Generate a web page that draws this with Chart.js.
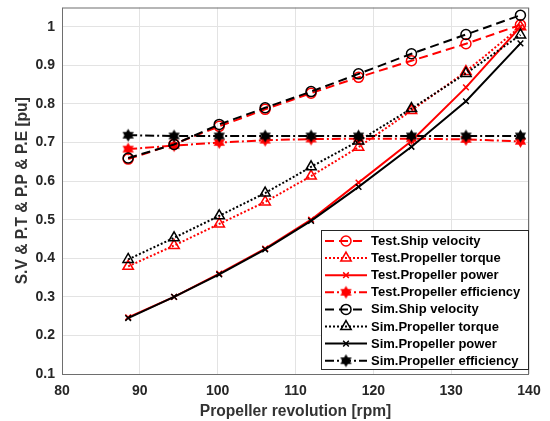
<!DOCTYPE html>
<html lang="en">
<head>
<meta charset="UTF-8">
<title>Propeller revolution chart</title>
<script src="https://cdn.jsdelivr.net/npm/chart.js@4.4.0/dist/chart.umd.min.js"></script>
<style>
    html, body { margin: 0; padding: 0; background: #fff; }
</style>
</head>
<body>
<canvas id="chartCanvas" width="550" height="421"></canvas>
<script>
    // propeller revolution [rpm]
    var rpm = [88.5, 94.4, 100.2, 106.1, 112.0, 118.1, 124.9, 131.9, 138.9];

    var testVelocity   = [0.657, 0.696, 0.742, 0.786, 0.828, 0.869, 0.912, 0.956, 1.005];
    var testTorque     = [0.379, 0.433, 0.489, 0.546, 0.613, 0.688, 0.783, 0.884, 1.000];
    var testPower      = [0.247, 0.300, 0.360, 0.425, 0.500, 0.596, 0.704, 0.843, 1.000];
    var testEfficiency = [0.683, 0.692, 0.700, 0.706, 0.709, 0.710, 0.710, 0.708, 0.703];

    var simVelocity   = [0.660, 0.695, 0.747, 0.790, 0.832, 0.878, 0.930, 0.980, 1.030];
    var simTorque     = [0.397, 0.453, 0.510, 0.569, 0.637, 0.704, 0.788, 0.879, 0.979];
    var simPower      = [0.245, 0.300, 0.358, 0.423, 0.497, 0.585, 0.689, 0.807, 0.957];
    var simEfficiency = [0.719, 0.717, 0.717, 0.717, 0.717, 0.717, 0.717, 0.717, 0.717];

    var xTicks = [80, 90, 100, 110, 120, 130, 140];

    function pairs(ys) {
        return ys.map(function(y, i) { return {x: rpm[i], y: y}; });
    }

    // filled hexagram marker
    function hexagram(color) {
        var c = document.createElement('canvas');
        c.width = 15; c.height = 15;
        var g = c.getContext('2d');
        g.fillStyle = color;
        var r = 6.5, cx = 7.5, cy = 7.5;
        [-Math.PI / 2, Math.PI / 2].forEach(function(a0) {
            g.beginPath();
            for (var k = 0; k < 3; k++) {
                var a = a0 + k * 2 * Math.PI / 3;
                g.lineTo(cx + r * Math.cos(a), cy + r * Math.sin(a));
            }
            g.closePath();
            g.fill();
        });
        return c;
    }

    var red = '#ff0000', black = '#000000';
    var styles = {
        velocity:   {dash: [9, 5], point: 'circle', radius: 5},
        torque:     {dash: [2, 2], point: 'triangle', radius: 6},
        power:      {dash: [], point: 'crossRot', radius: 4},
        efficiency: {dash: [9, 3, 2, 3], point: 'hex', radius: 6}
    };

    function makeSet(label, ys, color, kind, order) {
        var s = styles[kind];
        return {
            label: label,
            data: pairs(ys),
            borderColor: color,
            backgroundColor: color,
            borderWidth: 2,
            borderDash: s.dash,
            pointStyle: s.point === 'hex' ? hexagram(color) : s.point,
            pointRadius: s.radius,
            pointBorderWidth: 1.5,
            pointBackgroundColor: 'rgba(0,0,0,0)',
            pointBorderColor: color,
            showLine: true,
            fill: false,
            tension: 0,
            order: order,
            kind: kind
        };
    }

    var datasets = [
        makeSet('Test.Ship velocity', testVelocity, red, 'velocity', 1),
        makeSet('Test.Propeller torque', testTorque, red, 'torque', 1),
        makeSet('Test.Propeller power', testPower, red, 'power', 1),
        makeSet('Test.Propeller efficiency', testEfficiency, red, 'efficiency', 1),
        makeSet('Sim.Ship velocity', simVelocity, black, 'velocity', 0),
        makeSet('Sim.Propeller torque', simTorque, black, 'torque', 0),
        makeSet('Sim.Propeller power', simPower, black, 'power', 0),
        makeSet('Sim.Propeller efficiency', simEfficiency, black, 'efficiency', 0)
    ];

    var frameAndLegend = {
        id: 'frameAndLegend',
        afterDraw: function(chart) {
            var ctx = chart.ctx, a = chart.chartArea;
            ctx.save();
            ctx.strokeStyle = '#6e6e6e';
            ctx.lineWidth = 1;
            ctx.strokeRect(a.left + 0.5, a.top + 0.5, a.right - a.left - 1, a.bottom - a.top);

            // legend box
            var bx = 321, by = 230, bw = 207, bh = 139;
            ctx.fillStyle = '#fff';
            ctx.fillRect(bx, by, bw, bh);
            ctx.strokeStyle = '#262626';
            ctx.strokeRect(bx + 0.5, by + 0.5, bw, bh);
            ctx.font = 'bold 13px "Liberation Sans", Arial, sans-serif';
            ctx.textBaseline = 'middle';
            chart.data.datasets.forEach(function(ds, i) {
                var y = 241 + i * 17.1;
                var s = styles[ds.kind];
                ctx.strokeStyle = ds.borderColor;
                ctx.lineWidth = 2;
                ctx.setLineDash(s.dash);
                ctx.beginPath();
                ctx.moveTo(325, y);
                ctx.lineTo(367, y);
                ctx.stroke();
                ctx.setLineDash([]);
                ctx.lineWidth = 1.5;
                ctx.fillStyle = 'rgba(0,0,0,0)';
                Chart.helpers.drawPoint(ctx, {
                    pointStyle: ds.pointStyle, radius: s.radius, rotation: 0, borderWidth: 1.5
                }, 346, y);
                ctx.fillStyle = '#000';
                ctx.fillText(ds.label, 371, y + 0.5);
            });
            ctx.restore();
        }
    };

    var tickFont = {family: '"Liberation Sans", Arial, sans-serif', size: 14, weight: 'bold'};
    var titleFont = {family: '"Liberation Sans", Arial, sans-serif', size: 15.6, weight: 'bold'};

    const ctx = document.getElementById('chartCanvas').getContext('2d');
    const chart = new Chart(ctx, {
        type: 'scatter',
        data: {datasets: datasets},
        plugins: [frameAndLegend],
        options: {
            responsive: false,
            animation: false,
            layout: {padding: {top: 6, right: 21, left: 0, bottom: 0}},
            plugins: {legend: {display: false}, tooltip: {enabled: false}},
            scales: {
                x: {
                    type: 'linear',
                    min: 80, max: 140,
                    afterBuildTicks: function(scale) {
                        scale.ticks = xTicks.map(function(v) { return {value: v}; });
                    },
                    afterFit: function(scale) {
                        scale.height = 47;
                        scale.paddingLeft = 0;
                        scale.paddingRight = 0;
                    },
                    grid: {color: '#e3e3e3', drawTicks: false},
                    border: {display: false},
                    ticks: {color: '#262626', font: tickFont, padding: 9},
                    title: {display: true, text: 'Propeller revolution [rpm]', color: '#333333',
                            font: titleFont, padding: {top: 1, bottom: 0}}
                },
                y: {
                    type: 'linear',
                    min: 0.1, max: 1.05,
                    ticks: {stepSize: 0.1, includeBounds: false, color: '#262626', font: tickFont, padding: 7,
                            callback: function(v) { return Math.round(v * 10) / 10; }},
                    afterFit: function(scale) {
                        scale.width = 62;
                        scale.paddingTop = 0;
                        scale.paddingBottom = 0;
                    },
                    grid: {color: '#e3e3e3', drawTicks: false},
                    border: {display: false},
                    title: {display: true, text: 'S.V & P.T & P.P & P.E [pu]', color: '#333333',
                            font: titleFont, padding: {top: 13, bottom: 0}}
                }
            }
        }
    });
</script>
</body>
</html>
